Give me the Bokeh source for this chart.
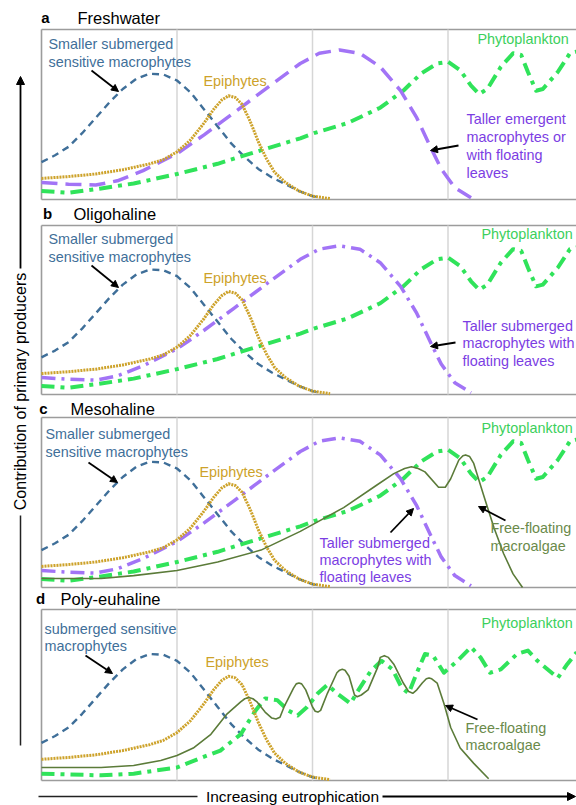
from math import pi
from bokeh.plotting import figure
from bokeh.models import Range1d, Label, Arrow, NormalHead
from bokeh.embed import file_html
from bokeh.resources import INLINE

# ---------------- data (x: eutrophication units, y: relative contribution 0..1) -------------
blue_x = [0, .1, .2, .3, .4, .5, .6, .7, .8, .9, 1.0, 1.1, 1.2, 1.3, 1.4, 1.5, 1.6, 1.7, 1.8, 1.9, 2.0, 2.05]
blue_y = [.22, .26, .31, .39, .48, .57, .65, .71, .74, .735, .70, .63, .53, .43, .33, .25, .18, .13, .09, .05, .02, .01]

epi_x = [0, .2, .4, .6, .8, .9, 1.0, 1.1, 1.2, 1.27, 1.33, 1.38, 1.43, 1.48, 1.54, 1.6, 1.66, 1.72, 1.8, 1.9, 2.0, 2.13]
epi_y = [.124, .135, .15, .175, .21, .235, .28, .35, .45, .53, .585, .61, .60, .56, .46, .34, .24, .16, .10, .05, .02, .005]

tall_x = [0, .2, .4, .56, .75, 1.0, 1.2, 1.42, 1.67, 1.91, 2.05, 2.2, 2.35, 2.5, 2.65, 2.77, 2.87, 2.95, 3.05, 3.17]
tall_y = [.10, .09, .085, .11, .17, .27, .38, .51, .66, .80, .86, .88, .86, .78, .64, .48, .31, .18, .07, .01]

phyto_x = [0, .2, .44, .68, 1.0, 1.3, 1.54, 1.91, 2.01, 2.26, 2.5, 2.67, 2.8, 2.92, 3.0, 3.09, 3.17, 3.23,
           3.29, 3.39, 3.48, 3.54, 3.59, 3.65, 3.70, 3.81, 3.9, 3.95]
phyto_y = [.05, .04, .065, .094, .15, .21, .27, .36, .39, .45, .54, .64, .74, .80, .81, .76, .67, .62,
           .65, .78, .86, .85, .75, .64, .65, .75, .86, .87]

phyto_d_x = [0, .44, .68, 1.0, 1.17, 1.32, 1.47, 1.58, 1.65, 1.74, 1.82, 1.89, 1.96, 2.04, 2.11, 2.18, 2.28,
             2.34, 2.43, 2.51, 2.59, 2.66, 2.71, 2.77, 2.83, 2.89, 2.97, 3.07, 3.17, 3.24, 3.31, 3.39,
             3.51, 3.59, 3.66, 3.81, 3.88, 3.95]
phyto_d_y = [.04, .03, .04, .076, .13, .175, .27, .41, .48, .47, .41, .38, .43, .51, .56, .51, .45,
             .53, .64, .70, .65, .54, .51, .63, .74, .73, .63, .70, .78, .72, .63, .65,
             .74, .76, .70, .60, .68, .75]

algae_c_x = [0, .44, .68, 1.0, 1.30, 1.62, 1.91, 2.23, 2.47, 2.60, 2.68, 2.73, 2.78, 2.83, 2.93, 2.98, 3.02,
             3.08, 3.11, 3.13, 3.16, 3.19, 3.26, 3.34, 3.41, 3.48, 3.55]
algae_c_y = [.053, .053, .07, .10, .15, .22, .33, .47, .60, .67, .70, .71, .70, .68, .59, .59, .64,
             .75, .775, .78, .77, .73, .55, .35, .20, .08, .0]

algae_d_x = [0, .44, .68, .88, 1.0, 1.12, 1.25, 1.37, 1.47, 1.50, 1.53, 1.56, 1.59, 1.65, 1.70, 1.73, 1.76,
             1.79, 1.86, 1.88, 1.90, 1.92, 1.95, 2.00, 2.02, 2.04, 2.06, 2.11, 2.18, 2.20, 2.22, 2.24,
             2.27, 2.31, 2.33, 2.36, 2.41, 2.48, 2.50, 2.53, 2.56, 2.60, 2.67, 2.71, 2.74, 2.77,
             2.81, 2.84, 2.86, 2.88, 2.92, 2.97, 3.02, 3.09, 3.19, 3.30]
algae_d_y = [.076, .076, .088, .117, .146, .19, .27, .39, .46, .478, .485, .478, .46, .40, .365, .36, .37,
             .43, .54, .565, .57, .565, .53, .43, .405, .40, .41, .51, .63, .645, .65, .645,
             .61, .50, .49, .50, .53, .66, .72, .73, .72, .68, .57, .52, .51, .53,
             .57, .595, .60, .595, .57, .45, .31, .19, .10, .01]

panel_titles = [("a", "Freshwater"), ("b", "Oligohaline"), ("c", "Mesohaline"), ("d", "Poly-euhaline")]

# ---------------- layout ----------------
W, H = 576, 805
X0, SX = 41, 135.5
FRAMES = {"a": (29, 199), "b": (225, 394), "c": (417, 587), "d": (609, 780)}
FONT = "Liberation Sans"
FS = "14.4px"

C_BLUE = "#3f6f99"
C_GOLD = "#cda22a"
C_PURPLE = "#a274f6"
C_PURPLE_T = "#7b3de3"
C_GREEN = "#30e35a"
C_GREEN_T = "#3cd05c"
C_OLIVE = "#5b7b39"
C_OLIVE_T = "#6a8a4a"

p = figure(width=W, height=H, x_range=Range1d(0, W), y_range=Range1d(H, 0),
           output_backend="svg", toolbar_location=None, min_border=0,
           x_axis_location=None, y_axis_location=None)
p.grid.visible = False
p.outline_line_color = None
p.background_fill_color = "white"
p.border_fill_color = "white"

p.extra_x_ranges = {"eu": Range1d(-X0 / SX, (W - X0) / SX)}
p.extra_y_ranges = {k: Range1d((B - H) / (B - T), B / (B - T)) for k, (T, B) in FRAMES.items()}


def lab(x, y, text, color="black", size=FS, bold=False, align="left", angle=0):
    p.add_layout(Label(x=x, y=y, text=text, text_color=color, text_font=FONT,
                       text_font_size=size, text_font_style="bold" if bold else "normal",
                       text_align=align, text_baseline="middle", angle=angle))


def arrow(x0, y0, x1, y1):
    p.add_layout(Arrow(end=NormalHead(size=7, fill_color="black", line_color="black"),
                       x_start=x0, y_start=y0, x_end=x1, y_end=y1,
                       line_color="black", line_width=1.8))


for k, (T, B) in FRAMES.items():
    # frame (right side is cut off by the page)
    p.segment(x0=[X0, X0, X0], y0=[T, B, T], x1=[W, W, X0], y1=[T, B, B],
              line_color="#9c9c9c", line_width=1.6)
    p.segment(x0=[1, 2, 3], y0=[0, 0, 0], x1=[1, 2, 3], y1=[1, 1, 1],
              x_range_name="eu", y_range_name=k, line_color="#d6d6d6", line_width=1.5)

    kw = dict(x_range_name="eu", y_range_name=k, line_join="round")
    p.line(blue_x, blue_y, line_color=C_BLUE, line_width=2.4, line_dash="7 5", **kw)
    if k == "d":
        p.line(phyto_d_x, phyto_d_y, line_color=C_GREEN, line_width=4, line_dash="13 6 4 6", **kw)
    else:
        p.line(phyto_x, phyto_y, line_color=C_GREEN, line_width=4, line_dash="13 6 4 6", **kw)
    if k == "a":
        p.line(tall_x, tall_y, line_color=C_PURPLE, line_width=3.5, line_dash="16 8", **kw)
    elif k in ("b", "c"):
        p.line(tall_x, tall_y, line_color=C_PURPLE, line_width=3.5, line_dash="14 6 3 6", **kw)
    p.line(epi_x, epi_y, line_color=C_GOLD, line_width=3, line_dash="2 1", **kw)
    if k == "c":
        p.line(algae_c_x, algae_c_y, line_color=C_OLIVE, line_width=1.6, **kw)
    if k == "d":
        p.line(algae_d_x, algae_d_y, line_color=C_OLIVE, line_width=1.6, **kw)

# panel titles
title_pos = [(45, 77, 17), (47, 73, 213), (43, 70, 408), (40, 60, 598)]
for (letter, name), (xl, xn, y) in zip(panel_titles, title_pos):
    lab(xl, y, letter, bold=True, size="15px", align="center")
    lab(xn, y, name, size="16.5px")

# panel a
lab(48, 43, "Smaller submerged", C_BLUE)
lab(48, 61, "sensitive macrophytes", C_BLUE)
arrow(91, 70, 118, 91)
lab(203, 80, "Epiphytes", C_GOLD)
lab(477, 38, "Phytoplankton", C_GREEN_T)
for i, t in enumerate(["Taller emergent", "macrophytes or", "with floating", "leaves"]):
    lab(466, 118 + 18 * i, t, C_PURPLE_T)
arrow(458, 145, 430, 150)

# panel b
lab(48, 238, "Smaller submerged", C_BLUE)
lab(48, 256, "sensitive macrophytes", C_BLUE)
arrow(91, 265, 118, 287)
lab(203, 277, "Epiphytes", C_GOLD)
lab(481, 233, "Phytoplankton", C_GREEN_T)
for i, t in enumerate(["Taller submerged", "macrophytes with", "floating leaves"]):
    lab(462, 325 + 17.5 * i, t, C_PURPLE_T)
arrow(455, 342, 430, 346)

# panel c
lab(45, 433, "Smaller submerged", C_BLUE)
lab(45, 451, "sensitive macrophytes", C_BLUE)
arrow(88, 462, 117, 482)
lab(199, 471, "Epiphytes", C_GOLD)
lab(481, 427, "Phytoplankton", C_GREEN_T)
for i, t in enumerate(["Taller submerged", "macrophytes with", "floating leaves"]):
    lab(319, 542 + 17 * i, t, C_PURPLE_T)
arrow(390, 532, 413, 508)
lab(490, 527, "Free-floating", C_OLIVE_T)
lab(490, 545, "macroalgae", C_OLIVE_T)
arrow(505, 520, 478, 506)

# panel d
lab(44, 628, "submerged sensitive", C_BLUE)
lab(44, 645, "macrophytes", C_BLUE)
arrow(85, 655, 112, 673)
lab(205, 661, "Epiphytes", C_GOLD)
lab(481, 622, "Phytoplankton", C_GREEN_T)
lab(465, 727, "Free-floating", C_OLIVE_T)
lab(465, 744, "macroalgae", C_OLIVE_T)
arrow(477, 719, 445, 705)

# axis labels
p.segment(x0=[38, 20], y0=[796, 515], x1=[197, 20], y1=[796, 745], line_color="#222222", line_width=1.5)
p.add_layout(Arrow(end=NormalHead(size=8, fill_color="black", line_color="black"),
                   x_start=382, y_start=796, x_end=575, y_end=796, line_color="black", line_width=1.8))
p.add_layout(Arrow(end=NormalHead(size=8, fill_color="black", line_color="black"),
                   x_start=20, y_start=268, x_end=20, y_end=76, line_color="black", line_width=1.8))
lab(292, 796, "Increasing eutrophication", size="15.5px", align="center")
lab(20, 391, "Contribution of primary producers", size="16px", align="center", angle=pi / 2)

open("out.html", "w").write(file_html(p, INLINE))
